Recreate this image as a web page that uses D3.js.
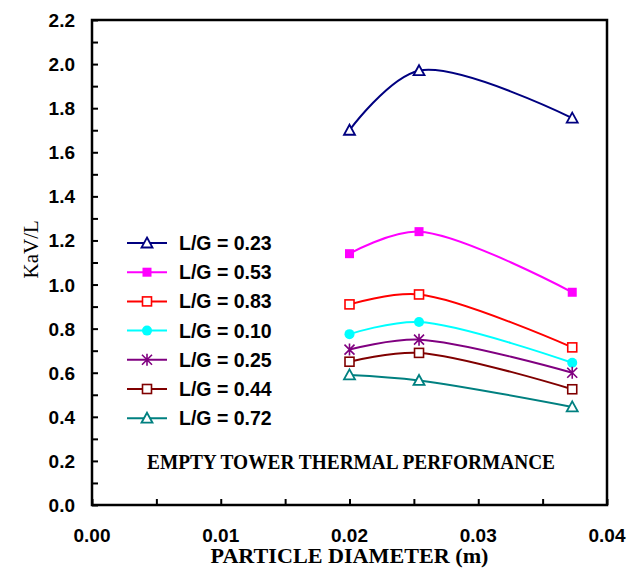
<!DOCTYPE html>
<html>
<head>
<meta charset="utf-8">
<script src="https://cdn.jsdelivr.net/npm/d3@7"></script>
<style>
  html, body { margin: 0; padding: 0; background: #fff; }
  svg { display: block; }
  .tick-lbl { font-family: Arial, "Liberation Sans", sans-serif; font-weight: bold; font-size: 19px; fill: #000; }
  .leg-lbl  { font-family: Arial, "Liberation Sans", sans-serif; font-weight: bold; font-size: 19.5px; fill: #000; }
  .serif    { font-family: "Times New Roman", "Liberation Serif", serif; fill: #000; }
</style>
</head>
<body>
<svg id="chart" width="627" height="570"></svg>
<script>
// ── data ──────────────────────────────────────────────────────────────
const diameters = [0.020, 0.0254, 0.0373];
const seriesNames = ['L/G = 0.23', 'L/G = 0.53', 'L/G = 0.83', 'L/G = 0.10', 'L/G = 0.25', 'L/G = 0.44', 'L/G = 0.72'];
const kav023 = [1.70, 1.97, 1.755];
const kav053 = [1.14, 1.24, 0.965];
const kav083 = [0.91, 0.955, 0.715];
const kav010 = [0.775, 0.83, 0.645];
const kav025 = [0.705, 0.75, 0.60];
const kav044 = [0.65, 0.69, 0.525];
const kav072 = [0.59, 0.565, 0.445];
const xTicks = [0.00, 0.01, 0.02, 0.03, 0.04];
const yTicks = [0.0, 0.2, 0.4, 0.6, 0.8, 1.0, 1.2, 1.4, 1.6, 1.8, 2.0, 2.2];

// style per series (colour, marker)
const styles = [
  { color: '#000080', marker: 'triOpen' },
  { color: '#FF00FF', marker: 'sqFill' },
  { color: '#FF0000', marker: 'sqOpen' },
  { color: '#00FFFF', marker: 'circFill' },
  { color: '#800080', marker: 'star' },
  { color: '#800000', marker: 'sqOpen' },
  { color: '#008080', marker: 'triOpen' }
];
const allValues = [kav023, kav053, kav083, kav010, kav025, kav044, kav072];
const series = seriesNames.map((name, i) => ({
  name, ...styles[i],
  pts: diameters.map((d, j) => ({ x: d, y: allValues[i][j] }))
}));

// ── layout ────────────────────────────────────────────────────────────
const svg = d3.select('#chart');
const L = 92, R = 607, T = 20, B = 505;
const x = d3.scaleLinear().domain([0, 0.04]).range([L, R]);
const y = d3.scaleLinear().domain([0, 2.2]).range([B, T]);

// ── marker drawing ────────────────────────────────────────────────────
function drawMarker(g, type, color) {
  if (type === 'triOpen') {
    g.append('path').attr('d', 'M0,-5.5L5.5,4.5L-5.5,4.5Z')
      .attr('fill', '#fff').attr('stroke', color).attr('stroke-width', 1.8);
  } else if (type === 'sqFill') {
    g.append('rect').attr('x', -4.5).attr('y', -4.5).attr('width', 9).attr('height', 9)
      .attr('fill', color);
  } else if (type === 'sqOpen') {
    g.append('rect').attr('x', -4.5).attr('y', -4.5).attr('width', 9).attr('height', 9)
      .attr('fill', '#fff').attr('stroke', color).attr('stroke-width', 1.6);
  } else if (type === 'circFill') {
    g.append('circle').attr('r', 5).attr('fill', color);
  } else if (type === 'star') {
    g.append('path').attr('d', 'M-5,-5L5,5M-5,5L5,-5M0,-6L0,6')
      .attr('stroke', color).attr('stroke-width', 1.6).attr('fill', 'none');
  }
}

// ── series ────────────────────────────────────────────────────────────
const line = d3.line().x(d => x(d.x)).y(d => y(d.y)).curve(d3.curveCatmullRom.alpha(0.5));
const sg = svg.append('g');
series.forEach(s => {
  sg.append('path').attr('d', line(s.pts))
    .attr('fill', 'none').attr('stroke', s.color).attr('stroke-width', 2);
  s.pts.forEach(p => {
    drawMarker(sg.append('g').attr('transform', `translate(${x(p.x)},${y(p.y)})`), s.marker, s.color);
  });
});

// ── axes (frame + inward ticks) ───────────────────────────────────────
svg.append('rect').attr('x', L).attr('y', T).attr('width', R - L).attr('height', B - T)
  .attr('fill', 'none').attr('stroke', '#000').attr('stroke-width', 2.5);

const xAxis = d3.axisBottom(x).tickValues(d3.range(0, 9).map(i => i * 0.005))
  .tickSize(-6).tickFormat('');
svg.append('g').attr('transform', `translate(0,${B})`).call(xAxis)
  .call(g => g.select('.domain').remove())
  .call(g => g.selectAll('line').attr('stroke-width', 2));

const yAxis = d3.axisLeft(y).tickValues(d3.range(0, 23).map(i => i * 0.1))
  .tickSize(-6).tickFormat('');
svg.append('g').attr('transform', `translate(${L},0)`).call(yAxis)
  .call(g => g.select('.domain').remove())
  .call(g => g.selectAll('line').attr('stroke-width', 2));

// tick labels
svg.append('g').selectAll('text').data(xTicks).join('text')
  .attr('class', 'tick-lbl').attr('x', d => x(d)).attr('y', 542)
  .attr('text-anchor', 'middle').text(d => d.toFixed(2));
svg.append('g').selectAll('text').data(yTicks).join('text')
  .attr('class', 'tick-lbl').attr('x', 75).attr('y', d => y(d) + 7)
  .attr('text-anchor', 'end').text(d => d.toFixed(1));

// axis titles
svg.append('text').attr('class', 'serif').attr('x', (L + R) / 2).attr('y', 563)
  .attr('text-anchor', 'middle').attr('font-weight', 'bold').attr('font-size', 21)
  .attr('textLength', 278).attr('lengthAdjust', 'spacingAndGlyphs')
  .text('PARTICLE DIAMETER (m)');
svg.append('text').attr('class', 'serif')
  .attr('transform', `translate(38,${y(1.16)}) rotate(-90)`)
  .attr('text-anchor', 'middle').attr('font-size', 21)
  .text('KaV/L');

// chart note
svg.append('text').attr('class', 'serif').attr('x', 351).attr('y', 469)
  .attr('text-anchor', 'middle').attr('font-weight', 'bold').attr('font-size', 20)
  .attr('textLength', 408).attr('lengthAdjust', 'spacingAndGlyphs')
  .text('EMPTY TOWER THERMAL PERFORMANCE');

// ── legend ────────────────────────────────────────────────────────────
const lg = svg.append('g');
series.forEach((s, i) => {
  const ly = 243 + i * 29.2;
  lg.append('line').attr('x1', 127).attr('x2', 167).attr('y1', ly).attr('y2', ly)
    .attr('stroke', s.color).attr('stroke-width', 2);
  drawMarker(lg.append('g').attr('transform', `translate(147,${ly})`), s.marker, s.color);
  lg.append('text').attr('class', 'leg-lbl').attr('x', 179).attr('y', ly + 7).text(s.name);
});
</script>
</body>
</html>
